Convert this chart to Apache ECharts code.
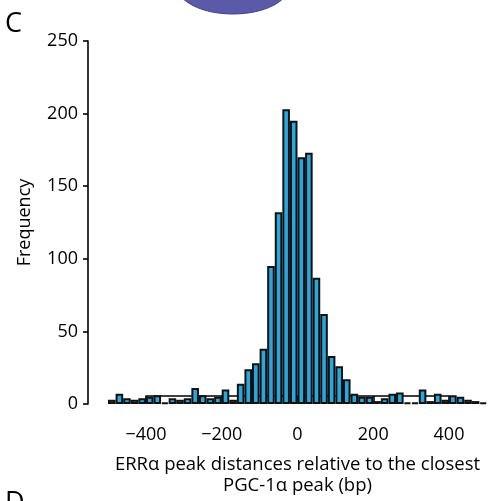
<!DOCTYPE html>
<html>
<head>
<meta charset="utf-8">
<script src="https://cdn.jsdelivr.net/npm/echarts@6/dist/echarts.min.js"></script>
<style>
  html, body { margin: 0; padding: 0; background: #fff; }
  #chart { width: 489px; height: 501px; }
</style>
</head>
<body>
<div id="chart"></div>
<script>
// bin left edges (bp), 20 bp wide
var binStarts = [];
for (var b = -500; b < 500; b += 20) binStarts.push(b);

// counts per bin
var counts = [3, 7, 4, 3, 4, 5, 6, 1, 4, 3,
              4, 11, 6, 4, 5, 10, 3, 14, 24, 28,
              38, 95, 132, 203, 195, 170, 173, 87, 62, 33,
              26, 17, 7, 5, 5, 2, 4, 7, 8, 1,
              1, 10, 2, 7, 3, 6, 5, 3, 2, 1];

var yTicks = [0, 50, 100, 150, 200, 250];
var xTicks = [-400, -200, 0, 200, 400];

var FONT = 'Open Sans';

var myChart = echarts.init(document.getElementById('chart'));

option = {
    animation: false,
    textStyle: { fontFamily: FONT },
    grid: [
        { left: 108, right: 2, top: 41, bottom: 97 },   // bars
        { left: 146, right: 40, top: 41, bottom: 97 }   // visible x axis (-400..400)
    ],
    graphic: [
        { type: 'text', left: 5, top: 11, style: { text: 'C', fontSize: 27, fontFamily: FONT, fill: '#000' } },
        { type: 'text', left: 5, top: 490, style: { text: 'D', fontSize: 27, fontFamily: FONT, fill: '#000' } },
        { type: 'ellipse', shape: { cx: 233, cy: -14, rx: 56, ry: 28 },
          style: { fill: '#5b5aa9', stroke: '#403e8c', lineWidth: 1 } }
    ],
    xAxis: [
        {
            gridIndex: 0,
            type: 'category',
            data: binStarts,
            boundaryGap: true,
            show: false
        },
        {
            gridIndex: 1,
            type: 'value',
            min: xTicks[0],
            max: xTicks[xTicks.length - 1],
            interval: 200,
            offset: 16,
            axisLine: { show: true, lineStyle: { color: '#000', width: 1.6 } },
            axisTick: { show: true, length: 8, lineStyle: { color: '#000', width: 1.6 } },
            splitLine: { show: false },
            axisLabel: {
                color: '#000', fontSize: 18, margin: 14,
                formatter: function (v) { return String(v).replace('-', '\u2212'); }
            },
            name: 'ERR\u03b1 peak distances relative to the closest\nPGC-1\u03b1 peak (bp)',
            nameLocation: 'middle',
            nameGap: 42,
            nameTextStyle: { color: '#000', fontSize: 18.5, lineHeight: 21 }
        }
    ],
    yAxis: [
        {
            gridIndex: 0,
            type: 'value',
            min: yTicks[0],
            max: yTicks[yTicks.length - 1],
            interval: 50,
            offset: 20,
            axisLine: { show: true, lineStyle: { color: '#000', width: 1.6 } },
            axisTick: { show: true, length: 5, lineStyle: { color: '#000', width: 1.6 } },
            splitLine: { show: false },
            axisLabel: { color: '#000', fontSize: 18, margin: 10 },
            name: 'Frequency',
            nameLocation: 'middle',
            nameGap: 54,
            nameTextStyle: { color: '#000', fontSize: 18 }
        },
        { gridIndex: 1, type: 'value', min: 0, max: 1, show: false }
    ],
    series: [
        {
            type: 'bar',
            xAxisIndex: 0,
            yAxisIndex: 0,
            data: counts,
            barCategoryGap: '0%',
            itemStyle: { color: '#29a8df', borderColor: '#111', borderWidth: 2 }
        }
    ]
};

myChart.setOption(option);
</script>
</body>
</html>
